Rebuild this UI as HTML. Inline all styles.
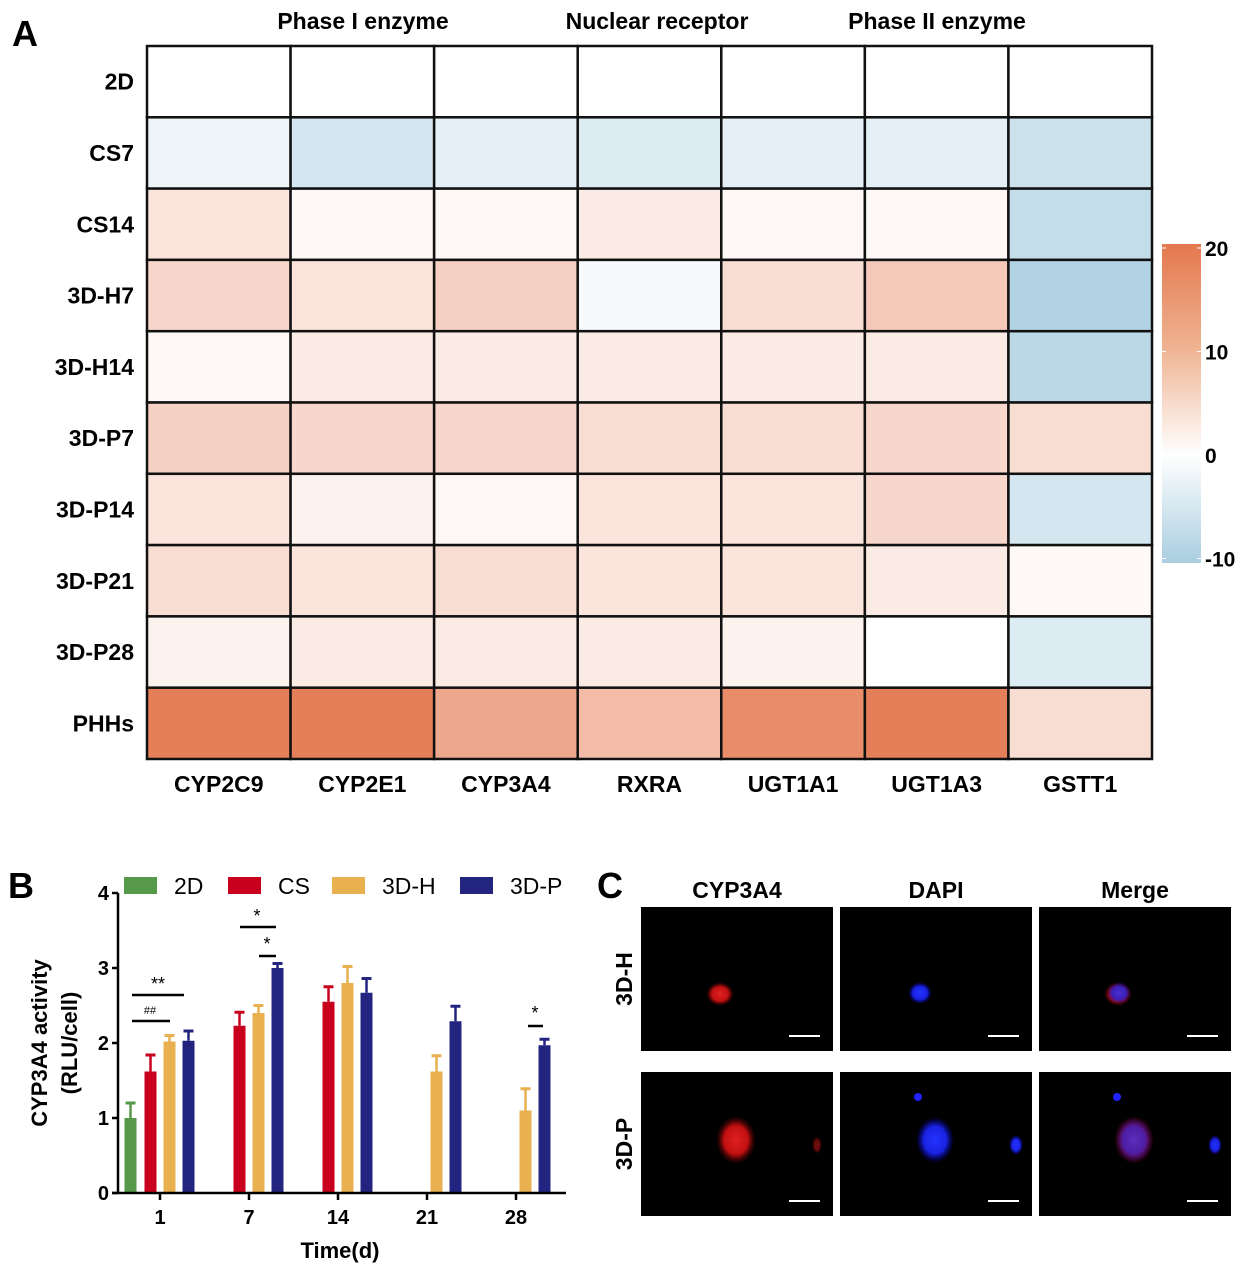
<!DOCTYPE html>
<html><head><meta charset="utf-8"><style>
body{margin:0;background:#fff}
svg{display:block;font-family:"Liberation Sans",Arial,sans-serif}
</style></head><body>
<svg id="s" width="1244" height="1267" viewBox="0 0 1244 1267" xmlns="http://www.w3.org/2000/svg">
<defs>
<linearGradient id="cb" x1="0" y1="0" x2="0" y2="1">
<stop offset="0" stop-color="#e4784e"/>
<stop offset="0.33" stop-color="#efb493"/>
<stop offset="0.66" stop-color="#ffffff"/>
<stop offset="1" stop-color="#a9cee0"/>
</linearGradient>
<radialGradient id="rg"><stop offset="0" stop-color="#e02020"/><stop offset="0.6" stop-color="#c01010"/><stop offset="1" stop-color="#600000" stop-opacity="0"/></radialGradient>
<radialGradient id="bg"><stop offset="0" stop-color="#2233ff"/><stop offset="0.6" stop-color="#1a22e0"/><stop offset="1" stop-color="#0000a0" stop-opacity="0"/></radialGradient>
</defs>
<g id="heat"></g>
<g id="bars"></g>
<g id="imgs"></g>
</svg>
<script>
const NS="http://www.w3.org/2000/svg";
function mk(p,t,a,txt){const e=document.createElementNS(NS,t);for(const k in a)e.setAttribute(k,a[k]);if(txt!==undefined)e.textContent=txt;p.appendChild(e);return e;}
// ---------- Heatmap data ----------
const heatRows=["2D","CS7","CS14","3D-H7","3D-H14","3D-P7","3D-P14","3D-P21","3D-P28","PHHs"];
const heatCols=["CYP2C9","CYP2E1","CYP3A4","RXRA","UGT1A1","UGT1A3","GSTT1"];
const heatVals=[
[0,0,0,0,0,0,0],
[-2,-5,-3,-4,-3,-3,-6],
[4,1,1,3,1,1,-7],
[6,4,7,-1,5,8,-9],
[1,3,3,3,3,3,-8],
[7,6,6,5,5,6,5],
[4,2,1,4,4,6,-5],
[5,4,5,4,4,3,1],
[2,3,3,3,2,0,-4],
[19,19,13,10,17,19,5]];
const groupLabels=["Phase I enzyme","Nuclear receptor","Phase II enzyme"];
const cbTicks=[20,10,0,-10];
const H=document.getElementById('heat');
const hx0=147,hx1=1152,hy0=46,hy1=759;
const cw=(hx1-hx0)/heatCols.length,ch=(hy1-hy0)/heatRows.length;
function col(v){
  let c0=[255,255,255],c1;
  let t;
  if(v>=0){c1=[228,120,80];t=Math.min(v/20,1);}else{c1=[169,206,224];t=Math.min(-v/10,1);}
  const c=c0.map((x,i)=>Math.round(x+(c1[i]-x)*t));
  return `rgb(${c})`;
}
mk(H,'text',{x:12,y:46,'font-size':36,'font-weight':'bold',},'A');
heatRows.forEach((r,i)=>{
  heatCols.forEach((c,j)=>{
    const e=mk(H,'rect',{x:hx0+j*cw,y:hy0+i*ch,width:cw,height:ch,fill:col(heatVals[i][j]),stroke:'#111','stroke-width':2.5});
    
    
  });
  const t=mk(H,'text',{x:134,y:hy0+i*ch+ch/2+8,'text-anchor':'end','font-size':23,'font-weight':'bold'},r);
  
  
});
heatCols.forEach((c,j)=>{
  const t=mk(H,'text',{x:hx0+j*cw+cw/2,y:792,'text-anchor':'middle','font-size':23,'font-weight':'bold'},c);
  
  
});
[[363],[657],[937]].forEach((p,i)=>{
  const t=mk(H,'text',{x:p[0],y:29,'text-anchor':'middle','font-size':23,'font-weight':'bold'},groupLabels[i]);
  
  
});
mk(H,'rect',{x:1162,y:244,width:39,height:319,fill:'url(#cb)',});
const cbY=v=>455-v*10.35;
cbTicks.forEach(v=>{
  mk(H,'line',{x1:1162,x2:1166,y1:cbY(v),y2:cbY(v),stroke:'#fff','stroke-width':1});
  mk(H,'line',{x1:1197,x2:1201,y1:cbY(v),y2:cbY(v),stroke:'#fff','stroke-width':1});
  const t=mk(H,'text',{x:1205,y:cbY(v)+8,'font-size':21,'font-weight':'bold'},String(v));
  
  
});
// ---------- Bar chart data ----------
const days=["1","7","14","21","28"];
const seriesNames=["2D","CS","3D-H","3D-P"];
const v2D=[1.0,null,null,null,null];
const vCS=[1.62,2.23,2.55,null,null];
const v3DH=[2.02,2.4,2.8,1.62,1.1];
const v3DP=[2.03,3.0,2.67,2.29,1.97];
const e2D=[0.2,0,0,0,0];
const eCS=[0.22,0.18,0.2,0,0];
const e3DH=[0.08,0.1,0.22,0.21,0.29];
const e3DP=[0.13,0.06,0.19,0.2,0.08];
const yTicks=[0,1,2,3,4];
const colors=["#56994a","#c8001e","#e8b04f","#23247f"];
const B=document.getElementById('bars');
const bx0=118,bx1=566,by0=1193,byScale=75;
const y=v=>by0-v*byScale;
const xc=i=>160+i*89;
const offs=[-29.5,-9.5,9.5,28.5];
const vals=[v2D,vCS,v3DH,v3DP],errs=[e2D,eCS,e3DH,e3DP];
mk(B,'text',{x:8,y:898,'font-size':36,'font-weight':'bold',},'B');
vals.forEach((s,k)=>{
  s.forEach((v,i)=>{
    if(v===null)return;
    const cx=xc(i)+offs[k];
    const r=mk(B,'rect',{x:cx-6,y:y(v),width:12,height:by0-y(v),fill:colors[k]});
    
    
    const ey=y(v+errs[k][i]);
    mk(B,'line',{x1:cx,x2:cx,y1:ey,y2:y(v),stroke:colors[k],'stroke-width':2.5});
    mk(B,'line',{x1:cx-5,x2:cx+5,y1:ey,y2:ey,stroke:colors[k],'stroke-width':3});
  });
});
mk(B,'line',{x1:bx0,x2:bx0,y1:893,y2:by0+1,stroke:'#000','stroke-width':2.5,});
mk(B,'line',{x1:bx0-6,x2:bx1,y1:by0,y2:by0,stroke:'#000','stroke-width':2.5,});
yTicks.forEach(v=>{
  mk(B,'line',{x1:bx0-6,x2:bx0,y1:y(v),y2:y(v),stroke:'#000','stroke-width':2.5});
  const t=mk(B,'text',{x:bx0-9,y:y(v)+7,'text-anchor':'end','font-size':20,'font-weight':'bold'},String(v));
  
  
});
days.forEach((d,i)=>{
  mk(B,'line',{x1:xc(i),x2:xc(i),y1:by0,y2:by0+7,stroke:'#000','stroke-width':2.5});
  const t=mk(B,'text',{x:xc(i),y:1224,'text-anchor':'middle','font-size':20,'font-weight':'bold'},d);
  
  
});
mk(B,'text',{x:340,y:1258,'text-anchor':'middle','font-size':22,'font-weight':'bold',},'Time(d)');
const yt=mk(B,'text',{transform:'translate(47,1043) rotate(-90)','text-anchor':'middle','font-size':22,'font-weight':'bold',});
mk(yt,'tspan',{x:0,dy:0},'CYP3A4 activity');
mk(yt,'tspan',{x:0,dy:30},'(RLU/cell)');
const legX=[124,228,332,460];
seriesNames.forEach((n,k)=>{
  const g=mk(B,'g',{});
  
  
  mk(g,'rect',{x:legX[k],y:877,width:33,height:17,fill:colors[k]});
  mk(g,'text',{x:legX[k]+50,y:894,'font-size':23},n);
});
// significance
const sig=[[132,184,995,"**",158,990],[132,170,1021,"##",150,1014],[240,276,927,"*",257,922],[259,276,956,"*",267,950],[528,543,1026,"*",535,1019]];
sig.forEach(s=>{
  mk(B,'line',{x1:s[0],x2:s[1],y1:s[2],y2:s[2],stroke:'#000','stroke-width':2.5,});
  mk(B,'text',{x:s[4],y:s[5],'text-anchor':'middle','font-size':s[3]=="##"?11:18,},s[3]);
});
// ---------- Image panel ----------
const I=document.getElementById('imgs');
mk(I,'text',{x:597,y:898,'font-size':36,'font-weight':'bold',},'C');
const imgCols=["CYP3A4","DAPI","Merge"],imgRows=["3D-H","3D-P"];
const ix=[641,840,1039],iy=[907,1072],iw=192,ih=144;
imgCols.forEach((c,j)=>{
  const t=mk(I,'text',{x:ix[j]+iw/2,y:898,'text-anchor':'middle','font-size':23,'font-weight':'bold'},c);
  
  
});
imgRows.forEach((r,i)=>{
  const t=mk(I,'text',{transform:`translate(632,${iy[i]+ih/2}) rotate(-90)`,'text-anchor':'middle','font-size':23,'font-weight':'bold'},r);
  
  
  imgCols.forEach((c,j)=>{
    const g=mk(I,'g',{});
    
    
    mk(g,'rect',{x:ix[j],y:iy[i],width:iw,height:ih,fill:'#000'});
    const X=ix[j],Y=iy[i];
    const red=j!==1, blue=j!==0;
    if(i===0){
      if(red) mk(g,'ellipse',{cx:X+79,cy:Y+87,rx:14,ry:12,fill:'url(#rg)'});
      if(blue) mk(g,'ellipse',{cx:X+80,cy:Y+86,rx:12,ry:11,fill:'url(#bg)','fill-opacity':j==2?0.8:1});
    }else{
      if(red){mk(g,'ellipse',{cx:X+95,cy:Y+68,rx:20,ry:24,fill:'url(#rg)'});mk(g,'ellipse',{cx:X+176,cy:Y+73,rx:5,ry:9,fill:'url(#rg)','fill-opacity':0.5});}
      if(blue){mk(g,'ellipse',{cx:X+95,cy:Y+68,rx:19,ry:23,fill:'url(#bg)','fill-opacity':j==2?0.7:1});mk(g,'circle',{cx:X+78,cy:Y+25,r:4,fill:'#22f'});mk(g,'ellipse',{cx:X+176,cy:Y+73,rx:7,ry:10,fill:'url(#bg)'});}
    }
    mk(g,'line',{x1:X+148,x2:X+179,y1:Y+129,y2:Y+129,stroke:'#fff','stroke-width':2,});
  });
});
</script>
</body></html>
